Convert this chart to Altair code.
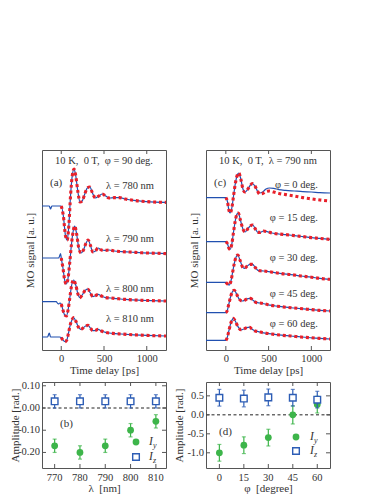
import altair as alt
import pandas as pd

# ---------------- data ----------------
# panel (a): MO signal traces, phi = 90 deg, various wavelengths (a.u., curves offset)
A780_PRE_T = [-225, -140, -125, -110, -20]
A780_PRE_V = [7.2, 7.2, 7.05, 7.2, 7.2]
A780_T = [0, 25, 50, 70, 90, 110, 130, 150, 170, 195, 220, 245, 275, 305, 335, 365, 400, 440, 480, 520, 560, 620, 680, 750, 850, 1000, 1225]
A780_V = [7.2, 6.7, 5.7, 5.5, 6.3, 7.8, 8.75, 9.05, 8.7, 7.9, 7.4, 7.45, 7.8, 8.1, 8.15, 7.85, 7.6, 7.7, 7.8, 7.7, 7.6, 7.62, 7.62, 7.55, 7.48, 7.42, 7.38]

A790_PRE_T = [-225, -30, -8]
A790_PRE_V = [4.6, 4.6, 4.82]
A790_T = [0, 20, 40, 60, 80, 100, 120, 140, 158, 180, 205, 232, 260, 290, 315, 340, 370, 400, 430, 470, 510, 560, 620, 700, 800, 950, 1100, 1225]
A790_V = [4.6, 4.1, 3.5, 3.3, 3.6, 4.4, 5.3, 5.95, 6.2, 5.8, 5.1, 4.85, 5.0, 5.35, 5.5, 5.25, 4.9, 4.95, 5.1, 5.0, 4.98, 5.0, 4.95, 4.92, 4.9, 4.86, 4.84, 4.82]

A800_PRE_T = [-225, -60, -35, -15]
A800_PRE_V = [2.42, 2.42, 2.3, 2.35]
A800_T = [0, 20, 40, 60, 80, 100, 120, 145, 170, 195, 218, 245, 280, 312, 340, 370, 400, 430, 470, 520, 580, 650, 750, 900, 1050, 1225]
A800_V = [2.3, 2.0, 1.75, 1.7, 2.0, 2.6, 3.2, 3.5, 3.25, 2.8, 2.62, 2.75, 2.98, 3.04, 2.85, 2.67, 2.72, 2.78, 2.7, 2.62, 2.6, 2.57, 2.53, 2.49, 2.47, 2.45]

A810_PRE_T = [-225, -160, -140, -125, -20]
A810_PRE_V = [0.65, 0.65, 0.85, 0.65, 0.65]
A810_T = [0, 20, 45, 65, 85, 105, 125, 145, 170, 200, 227, 255, 285, 312, 340, 370, 400, 430, 470, 520, 600, 700, 850, 1000, 1225]
A810_V = [0.62, 0.5, 0.42, 0.5, 0.85, 1.25, 1.5, 1.62, 1.45, 1.15, 1.03, 1.1, 1.2, 1.23, 1.1, 0.97, 0.98, 1.03, 0.95, 0.88, 0.83, 0.8, 0.76, 0.73, 0.7]

# panel (c): lambda = 790 nm, various phi
C0_PRE_T = [-232, -20]
C0_PRE_V = [7.62, 7.62]
C0_T = [0, 20, 35, 50, 70, 90, 110, 130, 152, 175, 200, 222, 250, 280, 310, 340, 370, 394, 430, 470, 510, 560, 620, 700, 800, 900, 1000, 1100, 1218]
C0_V = [7.62, 7.4, 7.0, 6.85, 7.1, 7.7, 8.3, 8.7, 8.85, 8.55, 8.05, 7.9, 8.0, 8.2, 8.32, 8.2, 7.95, 7.85, 7.9, 8.05, 8.1, 8.08, 8.02, 7.98, 7.95, 7.92, 7.9, 7.87, 7.85]
C0_FIT = [7.62, 7.4, 7.0, 6.85, 7.1, 7.7, 8.3, 8.7, 8.85, 8.55, 8.05, 7.9, 8.0, 8.2, 8.32, 8.2, 7.95, 7.8, 7.82, 7.92, 7.95, 7.9, 7.83, 7.77, 7.7, 7.62, 7.56, 7.5, 7.45]

C15_PRE_T = [-232, -20]
C15_PRE_V = [5.42, 5.42]
C15_T = [0, 20, 35, 50, 70, 90, 110, 130, 146, 170, 200, 225, 255, 285, 315, 345, 375, 400, 440, 480, 540, 620, 700, 800, 900, 1000, 1100, 1218]
C15_V = [5.42, 5.3, 5.1, 5.03, 5.3, 5.9, 6.45, 6.8, 6.85, 6.5, 6.05, 5.9, 6.05, 6.2, 6.25, 6.05, 5.88, 5.88, 5.95, 5.92, 5.85, 5.8, 5.77, 5.72, 5.67, 5.62, 5.58, 5.53]

C30_PRE_T = [-232, -20]
C30_PRE_V = [3.38, 3.38]
C30_T = [0, 20, 40, 60, 80, 100, 120, 140, 165, 195, 218, 250, 285, 313, 345, 375, 400, 440, 500, 570, 650, 760, 880, 1000, 1100, 1218]
C30_V = [3.38, 3.3, 3.25, 3.45, 3.9, 4.35, 4.65, 4.75, 4.5, 4.15, 4.08, 4.2, 4.28, 4.28, 4.12, 3.98, 3.96, 3.95, 3.92, 3.87, 3.82, 3.77, 3.7, 3.64, 3.58, 3.53]

C45_PRE_T = [-232, -20]
C45_PRE_V = [1.87, 1.87]
C45_T = [0, 15, 35, 55, 75, 99, 125, 155, 193, 225, 260, 290, 320, 354, 400, 460, 520, 600, 700, 800, 900, 1000, 1100, 1218]
C45_V = [1.87, 1.95, 2.3, 2.65, 2.9, 2.99, 2.8, 2.55, 2.45, 2.5, 2.57, 2.58, 2.48, 2.38, 2.35, 2.3, 2.24, 2.19, 2.14, 2.1, 2.06, 2.02, 1.98, 1.95]

C60_PRE_T = [-232, -20]
C60_PRE_V = [0.48, 0.48]
C60_T = [0, 15, 35, 55, 75, 88, 110, 140, 179, 210, 245, 277, 305, 339, 380, 440, 500, 570, 650, 760, 880, 1000, 1100, 1218]
C60_V = [0.48, 0.6, 0.95, 1.3, 1.52, 1.58, 1.45, 1.18, 1.01, 1.05, 1.12, 1.14, 1.05, 0.96, 0.92, 0.86, 0.82, 0.78, 0.74, 0.7, 0.65, 0.61, 0.58, 0.55]

TIME_TICKS = [0, 500, 1000]

# panel (b): amplitude vs wavelength
LAMBDA = [770, 780, 790, 800, 810]
LAMBDA_LABELS = ["770", "780", "790", "800", "810"]
B_IY = [-0.17, -0.20, -0.17, -0.10, -0.06]
B_IY_ERR = [0.03, 0.03, 0.03, 0.03, 0.03]
B_IZ = [0.03, 0.03, 0.03, 0.03, 0.03]
B_IZ_ERR = [0.03, 0.03, 0.03, 0.03, 0.03]
B_YTICKS = [-0.2, -0.1, 0.0, 0.1]
B_YLABELS = ["-0.20", "-0.10", "0.00", "0.10"]

# panel (d): amplitude vs phi
PHI = [0, 15, 30, 45, 60]
PHI_LABELS = ["0", "15", "30", "45", "60"]
D_IY = [-1.0, -0.8, -0.6, 0.0, 0.27]
D_IY_ERR = [0.22, 0.22, 0.22, 0.24, 0.22]
D_IZ = [0.45, 0.43, 0.46, 0.45, 0.40]
D_IZ_ERR = [0.22, 0.22, 0.22, 0.22, 0.22]
D_YTICKS = [-1.0, -0.5, 0.0, 0.5]
D_YLABELS = ["-1.0", "-0.5", "0.0", "0.5"]

# ---------------- styling ----------------
FONT = "Liberation Serif"
TXT = "#333333"
FRAME = "#555555"
BLUE = "#2150b0"
RED = "#e8202a"
GREEN = "#3db54a"
SQ = "#2d5db5"
W = 124
HT = 200
HB = 86
TL = 4
ONE = pd.DataFrame({"k": [0]})


def txt(s, x, y, align="left", size=10.5, style="normal", dx=0, dy=0):
    return alt.Chart(ONE).mark_text(
        text=s, align=align, baseline="middle", font=FONT, fontSize=size,
        fontStyle=style, color=TXT, dx=dx, dy=dy
    ).encode(x=alt.value(x), y=alt.value(y))


def top_panel(curves, xdom, header, tag, labels):
    blue_rows, red_rows = [], []
    for name, (pt, pv, tt, vv, ff) in curves.items():
        for t, v in zip(pt + tt, pv + vv):
            blue_rows.append({"t": t, "v": v, "c": name})
        for t, v in zip(tt, ff):
            red_rows.append({"t": t, "v": v, "c": name})
    xs = alt.Scale(domain=xdom, nice=False, zero=False)
    ys = alt.Scale(domain=[0, 10], nice=False, zero=False)
    x = alt.X("t:Q", scale=xs, axis=alt.Axis(
        values=TIME_TICKS, format="d", title="Time delay [ps]", ticks=False,
        domain=False, grid=False, labelPadding=3, titlePadding=1, labelOverlap=False))
    y = alt.Y("v:Q", scale=ys, axis=alt.Axis(
        labels=False, ticks=False, domain=False, grid=False,
        title="MO signal [a. u.]", titlePadding=7, minExtent=0))
    lb = alt.Chart(pd.DataFrame(blue_rows)).mark_line(
        color=BLUE, strokeWidth=1.2, interpolate="monotone"
    ).encode(x=x, y=y, detail="c:N")
    lr = alt.Chart(pd.DataFrame(red_rows)).mark_line(
        color=RED, strokeWidth=3.1, strokeDash=[3, 2.8], interpolate="monotone"
    ).encode(x=alt.X("t:Q", scale=xs), y=alt.Y("v:Q", scale=ys), detail="c:N")
    tk = pd.DataFrame({"t": TIME_TICKS})
    t_top = alt.Chart(tk).mark_rule(color=FRAME, strokeWidth=1).encode(
        x=alt.X("t:Q", scale=xs), y=alt.value(0), y2=alt.value(TL))
    t_bot = alt.Chart(tk).mark_rule(color=FRAME, strokeWidth=1).encode(
        x=alt.X("t:Q", scale=xs), y=alt.value(HT - TL), y2=alt.value(HT))
    layers = [lb, lr, t_top, t_bot,
              txt(header, 62, 11, align="center"),
              txt(tag, 8, 33, size=11)]
    for s, yy in labels:
        layers.append(txt(s, 112, yy, align="right"))
    return alt.layer(*layers).properties(width=W, height=HT)


def bottom_panel(xv, xlab, xdom, xtitle, ydom, yticks, ylab, iy, iye, iz, ize, tag, tagxy, leg):
    xs = alt.Scale(domain=xdom, nice=False, zero=False)
    ys = alt.Scale(domain=ydom, nice=False, zero=False)
    df_y = pd.DataFrame({"x": xv, "y": iy,
                         "lo": [a - e for a, e in zip(iy, iye)],
                         "hi": [a + e for a, e in zip(iy, iye)]})
    df_z = pd.DataFrame({"x": xv, "y": iz,
                         "lo": [a - e for a, e in zip(iz, ize)],
                         "hi": [a + e for a, e in zip(iz, ize)]})
    x = alt.X("x:Q", scale=xs, axis=alt.Axis(
        labels=False, title=xtitle, ticks=False, domain=False,
        grid=False, titlePadding=14))
    y = alt.Y("y:Q", scale=ys, axis=alt.Axis(
        labels=False, title="Amplitude [rad.]", ticks=False,
        domain=False, grid=False, titlePadding=22, minExtent=0))
    X = alt.X("x:Q", scale=xs)
    Y = alt.Y("y:Q", scale=ys)
    zero = alt.Chart(ONE).mark_rule(color="#222222", strokeDash=[3, 2.5], strokeWidth=1).encode(
        y=alt.Y("z:Q", scale=ys)
    ).transform_calculate(z="0")

    def group(df, color, square):
        rule = alt.Chart(df).mark_rule(color=color, strokeWidth=1.2).encode(
            x=X, y=alt.Y("lo:Q", scale=ys), y2="hi:Q")
        cap_lo = alt.Chart(df).mark_tick(color=color, orient="horizontal", size=4, thickness=1.2).encode(
            x=X, y=alt.Y("lo:Q", scale=ys))
        cap_hi = alt.Chart(df).mark_tick(color=color, orient="horizontal", size=4, thickness=1.2).encode(
            x=X, y=alt.Y("hi:Q", scale=ys))
        if square:
            pt = alt.Chart(df).mark_square(size=44, fill="white", stroke=color, strokeWidth=1.4, opacity=1).encode(
                x=X, y=Y)
        else:
            pt = alt.Chart(df).mark_circle(size=46, color=color, opacity=1).encode(x=X, y=Y)
        return [rule, cap_lo, cap_hi, pt]

    base = alt.Chart(df_y).mark_point(opacity=0).encode(x=x, y=y)
    tkx = pd.DataFrame({"x": xv, "lab": xlab})
    tky = pd.DataFrame({"y": yticks, "lab": ylab})
    ticks = [
        alt.Chart(tkx).mark_rule(color=FRAME).encode(x=X, y=alt.value(0), y2=alt.value(TL)),
        alt.Chart(tkx).mark_rule(color=FRAME).encode(x=X, y=alt.value(HB - TL), y2=alt.value(HB)),
        alt.Chart(tky).mark_rule(color=FRAME).encode(y=Y, x=alt.value(0), x2=alt.value(TL)),
        alt.Chart(tky).mark_rule(color=FRAME).encode(y=Y, x=alt.value(W - TL), x2=alt.value(W)),
        alt.Chart(tkx).mark_text(font=FONT, fontSize=10.5, color=TXT, baseline="middle", align="center").encode(
            x=X, y=alt.value(HB + 10), text="lab:N"),
        alt.Chart(tky).mark_text(font=FONT, fontSize=10.5, color=TXT, baseline="middle", align="right").encode(
            y=Y, x=alt.value(-2), text="lab:N"),
    ]
    (lx, ly1, ly2, tx) = leg
    legend = [
        alt.Chart(ONE).mark_circle(size=46, color=GREEN, opacity=1).encode(x=alt.value(lx), y=alt.value(ly1)),
        alt.Chart(ONE).mark_square(size=44, fill="white", stroke=SQ, strokeWidth=1.4, opacity=1).encode(x=alt.value(lx), y=alt.value(ly2)),
        txt("I", tx, ly1, size=11.5, style="italic"),
        txt("y", tx, ly1, size=8, style="italic", dx=4, dy=4),
        txt("I", tx, ly2, size=11.5, style="italic"),
        txt("z", tx, ly2, size=8, style="italic", dx=4, dy=4),
    ]
    layers = [base, zero] + ticks + group(df_y, GREEN, False) + group(df_z, SQ, True) + legend + [
        txt(tag, tagxy[0], tagxy[1], size=11)]
    return alt.layer(*layers).properties(width=W, height=HB)


panel_a = top_panel(
    {"780": (A780_PRE_T, A780_PRE_V, A780_T, A780_V, A780_V),
     "790": (A790_PRE_T, A790_PRE_V, A790_T, A790_V, A790_V),
     "800": (A800_PRE_T, A800_PRE_V, A800_T, A800_V, A800_V),
     "810": (A810_PRE_T, A810_PRE_V, A810_T, A810_V, A810_V)},
    [-225, 1225], "10 K,\u00a0 0 T,\u00a0 \u03c6 = 90 deg.", "(a)",
    [("\u03bb = 780 nm", 36), ("\u03bb = 790 nm", 89), ("\u03bb = 800 nm", 139), ("\u03bb = 810 nm", 169)])

panel_c = top_panel(
    {"0": (C0_PRE_T, C0_PRE_V, C0_T, C0_V, C0_FIT),
     "15": (C15_PRE_T, C15_PRE_V, C15_T, C15_V, C15_V),
     "30": (C30_PRE_T, C30_PRE_V, C30_T, C30_V, C30_V),
     "45": (C45_PRE_T, C45_PRE_V, C45_T, C45_V, C45_V),
     "60": (C60_PRE_T, C60_PRE_V, C60_T, C60_V, C60_V)},
    [-232, 1218], "10 K,\u00a0 0 T,\u00a0 \u03bb = 790 nm", "(c)",
    [("\u03c6 = 0 deg.", 35), ("\u03c6 = 15 deg.", 68), ("\u03c6 = 30 deg.", 108),
     ("\u03c6 = 45 deg.", 144), ("\u03c6 = 60 deg.", 174)])

panel_b = bottom_panel(LAMBDA, LAMBDA_LABELS, [765, 814], "\u03bb\u00a0 [nm]", [-0.27, 0.117],
                       B_YTICKS, B_YLABELS, B_IY, B_IY_ERR, B_IZ, B_IZ_ERR,
                       "(b)", (18, 42), (94, 60, 75, 107))
panel_d = bottom_panel(PHI, PHI_LABELS, [-8.2, 67.8], "\u03c6\u00a0 [degree]", [-1.4, 0.865],
                       D_YTICKS, D_YLABELS, D_IY, D_IY_ERR, D_IZ, D_IZ_ERR,
                       "(d)", (13, 50), (90, 55, 69, 104))

chart = alt.concat(
    panel_a, panel_c, panel_b, panel_d, columns=2,
    spacing={"row": 32, "column": 40}, bounds="flush", align="each"
).properties(
    padding={"left": 0, "top": 141, "right": 4, "bottom": 0}
).configure_view(
    stroke=FRAME, strokeWidth=1
).configure_axis(
    labelFont=FONT, titleFont=FONT, labelFontSize=10.5, titleFontSize=11,
    labelColor=TXT, titleColor=TXT, titleFontWeight="normal"
)

chart.save("out.html", embed_options={"renderer": "svg", "actions": False})
